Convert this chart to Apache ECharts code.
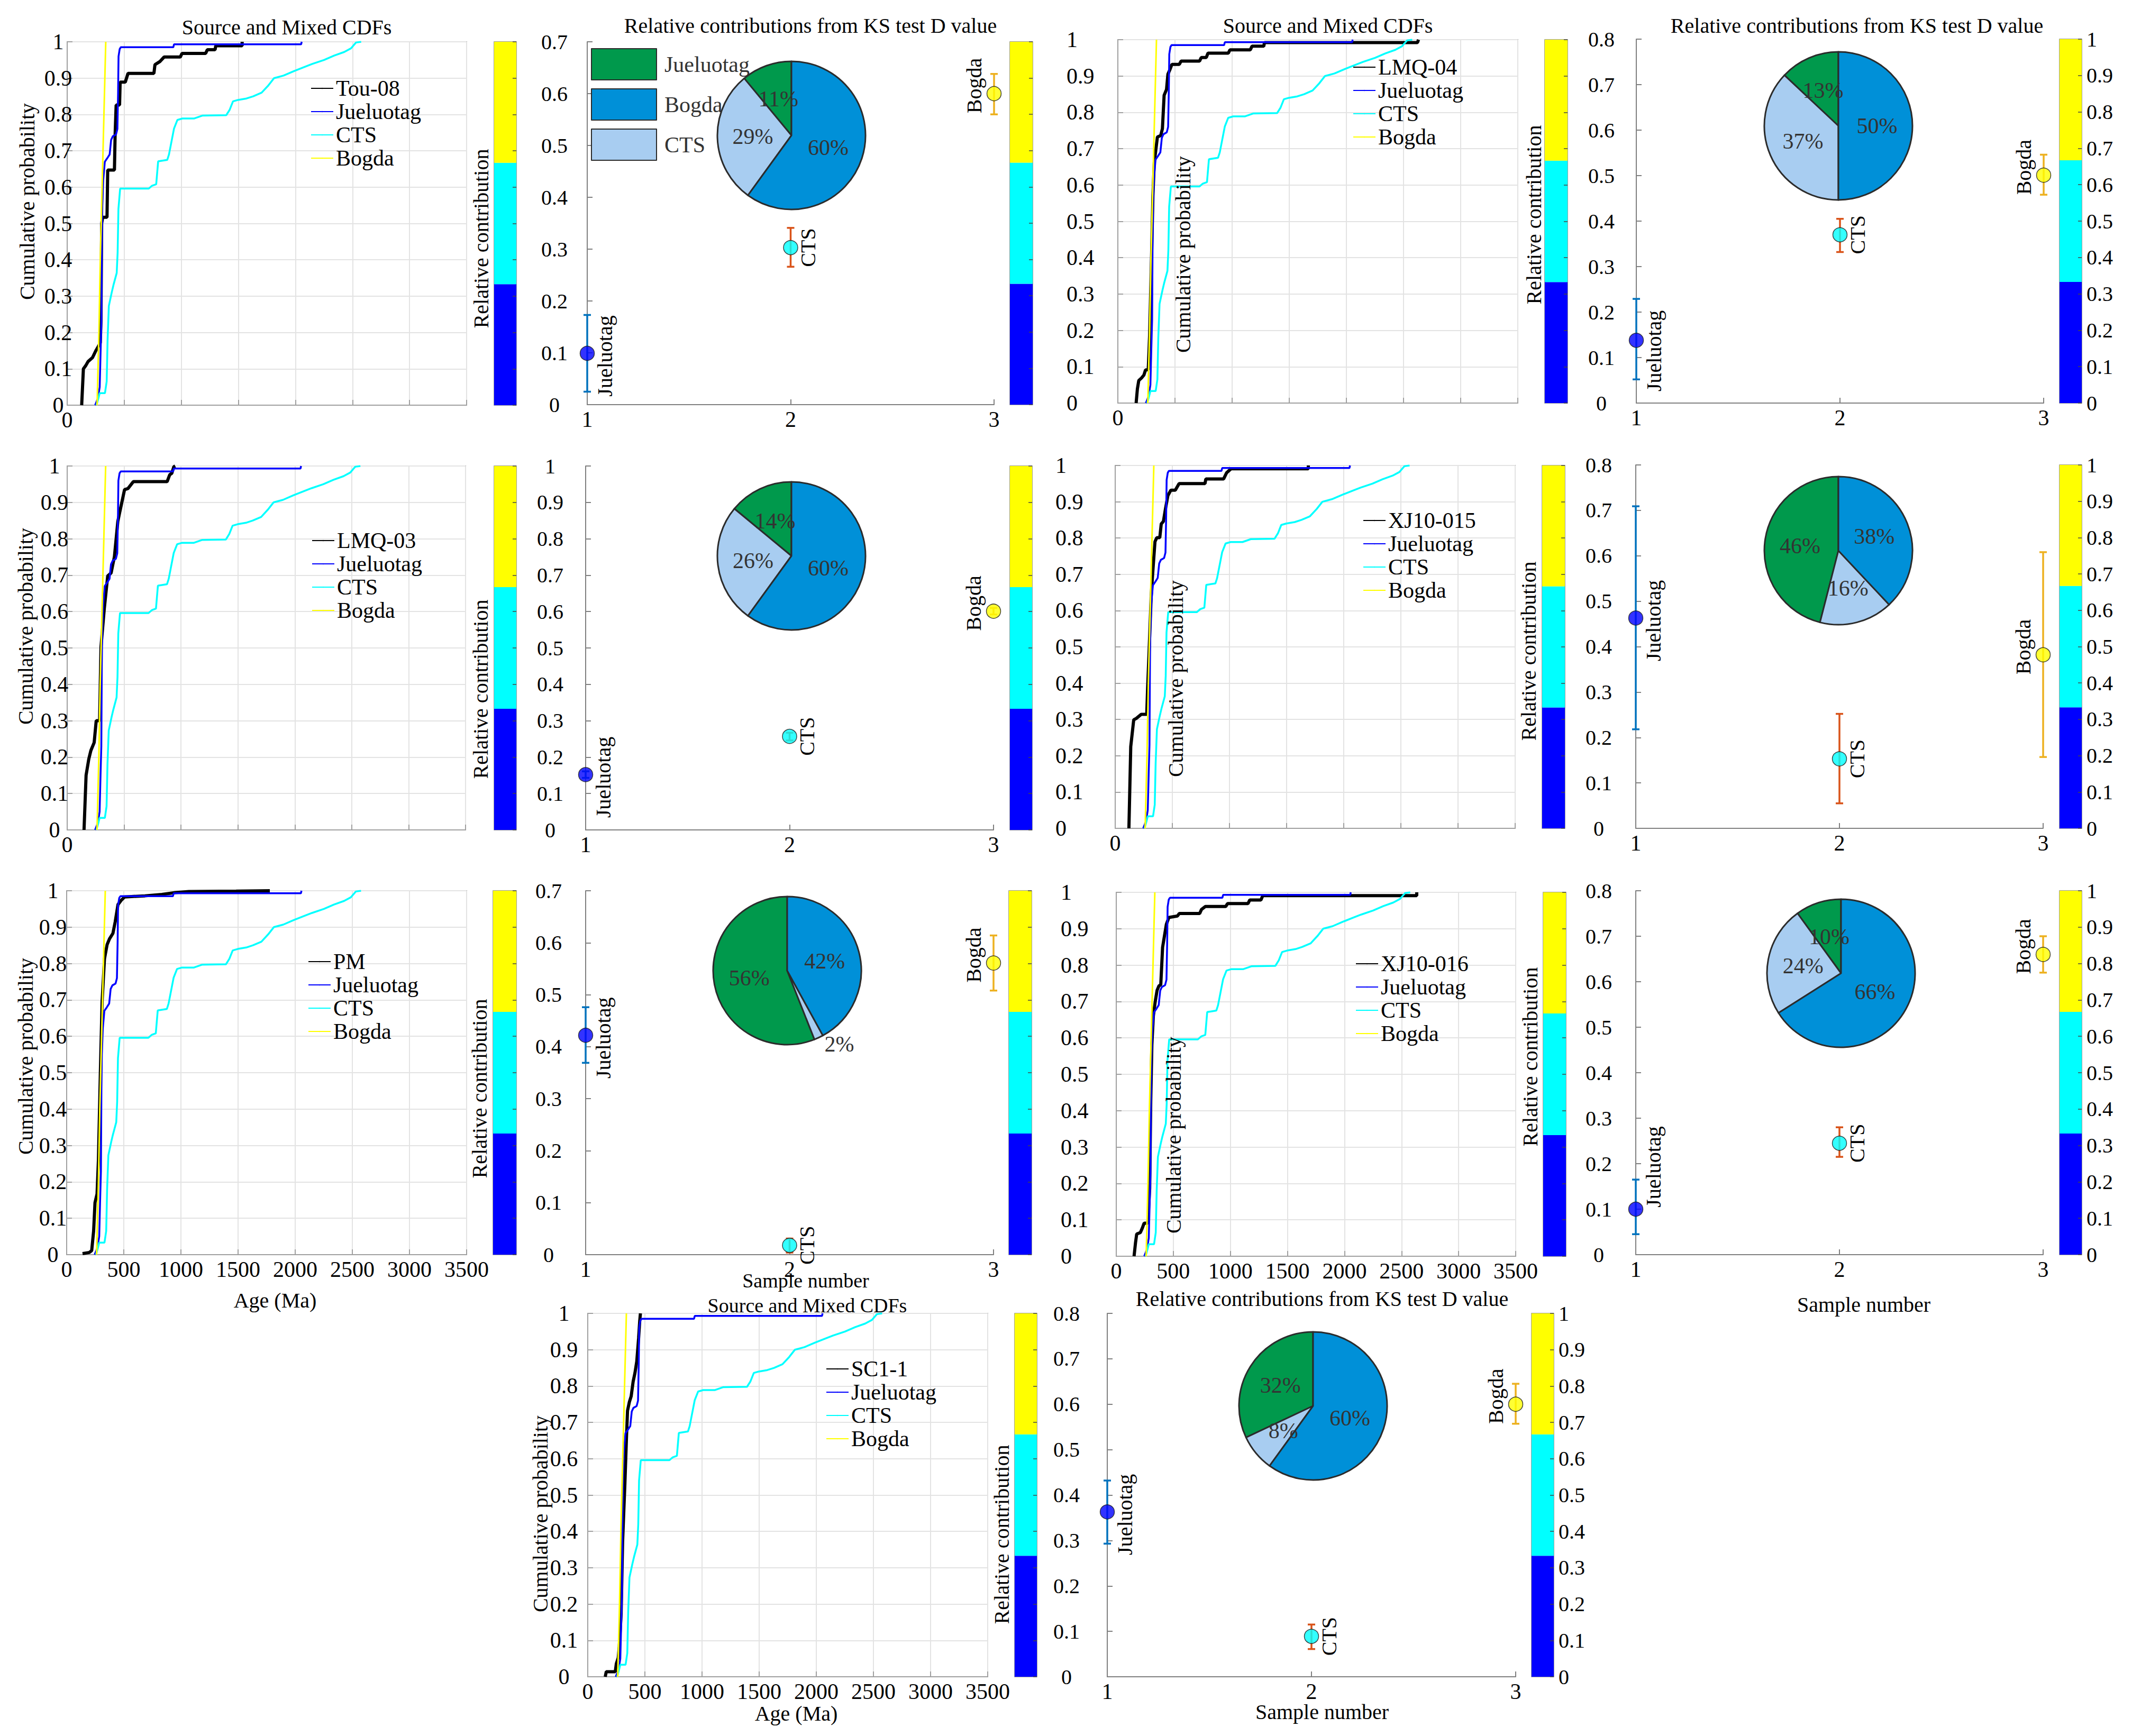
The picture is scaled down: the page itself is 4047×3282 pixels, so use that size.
<!DOCTYPE html>
<html>
<head>
<meta charset="utf-8">
<script src="https://cdn.jsdelivr.net/npm/echarts@6/dist/echarts.min.js"></script>
<style>
  html, body { margin: 0; background: #fff; }
  #chart { width: 4047px; height: 3282px; }
</style>
</head>
<body>
<div id="chart"></div>
<script>
// ---- data ----
const sourceNames = ['Jueluotag', 'CTS', 'Bogda'];
const sampleNames = ['Tou-08', 'LMQ-04', 'LMQ-03', 'XJ10-015', 'PM', 'XJ10-016', 'SC1-1'];

// source CDFs: [age (Ma), cumulative probability]
const jueluotagCdf = [[245, 0], [258, 0.01], [270, 0.02], [285, 0.05], [293, 0.15], [300, 0.23], [304, 0.45], [308, 0.55], [316, 0.62], [330, 0.67], [352, 0.68], [372, 0.69], [385, 0.73], [400, 0.74], [428, 0.745], [440, 0.76], [446, 0.86], [450, 0.96], [460, 0.98], [470, 0.985], [930, 0.985], [936, 0.993], [2050, 0.993], [2055, 1]];
const ctsCdf = [[257, 0], [272, 0.017], [285, 0.033], [331, 0.033], [346, 0.065], [354, 0.18], [365, 0.273], [390, 0.31], [405, 0.33], [434, 0.364], [442, 0.42], [449, 0.54], [464, 0.596], [715, 0.596], [744, 0.604], [780, 0.608], [797, 0.671], [877, 0.675], [892, 0.69], [936, 0.761], [966, 0.785], [1010, 0.789], [1114, 0.789], [1187, 0.797], [1394, 0.798], [1424, 0.813], [1453, 0.836], [1497, 0.84], [1571, 0.844], [1630, 0.85], [1704, 0.86], [1763, 0.88], [1813, 0.9], [1896, 0.907], [1985, 0.919], [2073, 0.93], [2147, 0.939], [2251, 0.95], [2339, 0.962], [2428, 0.972], [2487, 0.982], [2531, 0.998], [2576, 1]];
const bogdaCdf = [[262, 0], [278, 0.2], [290, 0.4], [298, 0.5], [310, 0.65], [322, 0.8], [338, 1]];

// mixed (sample) CDFs
const tou08Cdf = [[127, 0], [142, 0.1], [163, 0.109], [183, 0.12], [222, 0.131], [251, 0.15], [272, 0.161], [290, 0.172], [296, 0.232], [302, 0.5], [311, 0.517], [349, 0.517], [355, 0.647], [414, 0.647], [420, 0.744], [429, 0.826], [459, 0.826], [464, 0.889], [509, 0.889], [533, 0.913], [760, 0.913], [769, 0.937], [814, 0.946], [849, 0.958], [991, 0.958], [1006, 0.968], [1213, 0.968], [1228, 0.978], [1296, 0.978], [1302, 0.989], [1533, 0.989], [1533, 1]];
const lmq04Cdf = [[160, 0], [171, 0.039], [183, 0.062], [207, 0.069], [228, 0.077], [242, 0.091], [266, 0.092], [278, 0.185], [296, 0.416], [307, 0.57], [319, 0.663], [331, 0.693], [346, 0.732], [375, 0.736], [390, 0.755], [405, 0.847], [426, 0.863], [438, 0.905], [455, 0.917], [473, 0.932], [538, 0.932], [553, 0.941], [715, 0.941], [730, 0.951], [774, 0.951], [789, 0.963], [967, 0.963], [981, 0.972], [1159, 0.972], [1174, 0.982], [1277, 0.982], [1283, 0.992], [2622, 0.992], [2631, 1]];
const lmq03Cdf = [[148, 0], [166, 0.15], [190, 0.195], [208, 0.218], [237, 0.24], [255, 0.3], [285, 0.3], [297, 0.503], [326, 0.608], [356, 0.698], [386, 0.706], [415, 0.751], [445, 0.848], [463, 0.875], [504, 0.935], [534, 0.938], [581, 0.957], [878, 0.957], [901, 0.976], [919, 0.98], [937, 0.998], [949, 1]];
const xj10015Cdf = [[120, 0], [136, 0.225], [162, 0.299], [185, 0.303], [227, 0.314], [276, 0.314], [283, 0.381], [299, 0.507], [315, 0.641], [331, 0.716], [348, 0.79], [364, 0.801], [390, 0.801], [403, 0.839], [422, 0.846], [439, 0.879], [461, 0.917], [487, 0.932], [526, 0.932], [559, 0.95], [786, 0.95], [793, 0.963], [949, 0.963], [975, 0.98], [1014, 0.991], [1690, 0.991], [1690, 1]];
const pmCdf = [[139, 0.003], [198, 0.006], [219, 0.011], [236, 0.065], [248, 0.143], [266, 0.167], [278, 0.26], [295, 0.5], [310, 0.695], [331, 0.813], [354, 0.852], [375, 0.868], [405, 0.883], [425, 0.915], [449, 0.962], [478, 0.974], [508, 0.983], [567, 0.984], [685, 0.986], [833, 0.99], [951, 0.995], [1069, 0.998], [1483, 0.999], [1778, 1]];
const xj10016Cdf = [[156, 0], [169, 0.038], [179, 0.061], [211, 0.065], [228, 0.077], [244, 0.091], [276, 0.091], [293, 0.187], [302, 0.424], [312, 0.581], [325, 0.66], [341, 0.699], [358, 0.731], [374, 0.743], [390, 0.746], [406, 0.849], [439, 0.912], [461, 0.931], [536, 0.935], [553, 0.942], [731, 0.942], [747, 0.953], [780, 0.961], [959, 0.961], [975, 0.969], [1154, 0.969], [1170, 0.979], [1268, 0.979], [1284, 0.991], [2633, 0.991], [2633, 1]];
const sc11Cdf = [[153, 0], [162, 0.014], [241, 0.014], [250, 0.036], [267, 0.052], [276, 0.084], [292, 0.172], [305, 0.372], [325, 0.532], [338, 0.652], [348, 0.732], [364, 0.756], [380, 0.772], [397, 0.812], [413, 0.836], [429, 0.868], [445, 0.932], [455, 0.98], [461, 1]];

// pie shares (%), order Jueluotag, CTS, Bogda
const tou08Share = [11, 29, 60];
const lmq04Share = [13, 37, 50];
const lmq03Share = [14, 26, 60];
const xj10015Share = [46, 16, 38];
const pmShare = [56, 2, 42];
const xj10016Share = [10, 24, 66];
const sc11Share = [32, 8, 60];

// relative contributions from KS test D value (point, lower, upper)
const tou08Mean = [0.099, 0.303, 0.600], tou08Low = [0.025, 0.266, 0.560], tou08High = [0.173, 0.341, 0.638];
const lmq04Mean = [0.138, 0.370, 0.501], lmq04Low = [0.052, 0.332, 0.458], lmq04High = [0.229, 0.405, 0.546];
const lmq03Mean = [0.152, 0.257, 0.601], lmq03Low = [0.143, 0.246, 0.592], lmq03High = [0.161, 0.267, 0.610];
const xj10015Mean = [0.463, 0.153, 0.382], xj10015Low = [0.218, 0.055, 0.157], xj10015High = [0.709, 0.252, 0.608];
const pmMean = [0.422, 0.018, 0.561], pmLow = [0.369, 0.004, 0.508], pmHigh = [0.476, 0.031, 0.614];
const xj10016Mean = [0.100, 0.245, 0.660], xj10016Low = [0.045, 0.215, 0.620], xj10016High = [0.165, 0.280, 0.700];
const sc11Mean = [0.363, 0.089, 0.600], sc11Low = [0.293, 0.061, 0.557], sc11High = [0.432, 0.115, 0.645];

const scatterMax = [0.7, 0.8, 1, 0.8, 0.7, 0.8, 0.8];
const sampleNumbers = [1, 2, 3];
const colorbarBands = [0.333, 0.334, 0.333];

const sampleCdfs = [tou08Cdf, lmq04Cdf, lmq03Cdf, xj10015Cdf, pmCdf, xj10016Cdf, sc11Cdf];
const sourceCdfs = [jueluotagCdf, ctsCdf, bogdaCdf];
const shares = [tou08Share, lmq04Share, lmq03Share, xj10015Share, pmShare, xj10016Share, sc11Share];
const means = [tou08Mean, lmq04Mean, lmq03Mean, xj10015Mean, pmMean, xj10016Mean, sc11Mean];
const lows = [tou08Low, lmq04Low, lmq03Low, xj10015Low, pmLow, xj10016Low, sc11Low];
const highs = [tou08High, lmq04High, lmq03High, xj10015High, pmHigh, xj10016High, sc11High];

// ---- styling / layout ----
const FONT = "'Liberation Serif', 'Times New Roman', serif";
const sourceColors = ['#0000ff', '#00ffff', '#ffff00'];
const sourceWidths = [3.5, 3.5, 3];
const pieColors = ['#00994c', '#a8cdf1', '#0090d8'];
const barColors = ['#0072bd', '#d95319', '#edb120'];
const bandColors = ['#0000ff', '#00ffff', '#ffff00'];
const labelDx = [33, 33, -38];
const labelDy = [5, 0, -15];
const axisGray = '#a0a0a0';

const layout = [
  { cdf: [127, 79, 755, 687], cdfBar: [934, 79, 42, 687], sc: [1110, 79, 769, 686], scBar: [1909, 79, 43, 686],
    pie: [1496, 256], legend: [587, 145], cdfLabel: ['center', 17], scMargin: 62, xFull: false, barLabels: false, jDy: 0 },
  { cdf: [2113, 75, 756, 687], cdfBar: [2920, 75, 43, 687], sc: [3093, 74, 770, 688], scBar: [3893, 74, 42, 688],
    pie: [3475, 238], legend: [2557, 105], cdfLabel: ['left', 97], scMargin: 66, xFull: false, barLabels: true, jDy: 15 },
  { cdf: [127, 881, 753, 688], cdfBar: [934, 881, 42, 688], sc: [1107, 881, 771, 688], scBar: [1909, 881, 42, 688],
    pie: [1496, 1051], legend: [589, 1000], cdfLabel: ['center', 24], scMargin: 67, xFull: false, barLabels: false, jDy: 0 },
  { cdf: [2108, 880, 756, 686], cdfBar: [2915, 880, 43, 686], sc: [3092, 879, 770, 687], scBar: [3893, 879, 42, 687],
    pie: [3475, 1041], legend: [2576, 962], cdfLabel: ['left', 113], scMargin: 70, xFull: false, barLabels: true, jDy: 0 },
  { cdf: [126, 1684, 756, 688], cdfBar: [932, 1684, 44, 688], sc: [1107, 1684, 771, 688], scBar: [1907, 1684, 43, 688],
    pie: [1488, 1835], legend: [582, 1796], cdfLabel: ['center', 26], scMargin: 70, xFull: true, barLabels: false, jDy: 0 },
  { cdf: [2110, 1687, 755, 688], cdfBar: [2917, 1687, 43, 688], sc: [3092, 1684, 770, 688], scBar: [3893, 1684, 42, 688],
    pie: [3480, 1840], legend: [2562, 1800], cdfLabel: ['left', 105], scMargin: 70, xFull: true, barLabels: true, jDy: -85 },
  { cdf: [1111, 2483, 756, 687], cdfBar: [1918, 2483, 42, 687], sc: [2093, 2483, 772, 687], scBar: [2895, 2483, 42, 687],
    pie: [2482, 2658], legend: [1561, 2566], cdfLabel: ['center', 45], scMargin: 77, xFull: true, barLabels: true, jDy: 0 }
];

const texts = [
  // [text, x, y, rotated, fontSize]
  ['Source and Mixed CDFs', 542, 51, false, 40],
  ['Relative contributions from KS test D value', 1532, 48, false, 40],
  ['Source and Mixed CDFs', 2510, 48, false, 40],
  ['Relative contributions from KS test D value', 3510, 48, false, 40],
  ['Source and Mixed CDFs', 1526, 2468, false, 38],
  ['Relative contributions from KS test D value', 2499, 2455, false, 40],
  ['Age (Ma)', 520, 2458, false, 40],
  ['Age (Ma)', 1505, 3239, false, 40],
  ['Sample number', 1523, 2421, false, 38],
  ['Sample number', 3523, 2466, false, 40],
  ['Sample number', 2499, 3236, false, 40],
  ['Cumulative probability', 51, 381, true, 40],
  ['Cumulative probability', 2236, 481, true, 40],
  ['Cumulative probability', 48, 1184, true, 40],
  ['Cumulative probability', 2222, 1283, true, 40],
  ['Cumulative probability', 48, 1997, true, 40],
  ['Cumulative probability', 2218, 2146, true, 40],
  ['Cumulative probability', 1021, 2862, true, 40],
  ['Relative contribution', 909, 451, true, 40],
  ['Relative contribution', 2899, 406, true, 40],
  ['Relative contribution', 908, 1303, true, 40],
  ['Relative contribution', 2889, 1231, true, 40],
  ['Relative contribution', 906, 2058, true, 40],
  ['Relative contribution', 2892, 1998, true, 40],
  ['Relative contribution', 1893, 2901, true, 40]
];

const grids = [], xAxes = [], yAxes = [], series = [], legends = [], graphics = [];

function addGrid(box, extra) {
  grids.push(Object.assign({ left: box[0], top: box[1], width: box[2], height: box[3], outerBoundsMode: 'none' }, extra || {}));
  return grids.length - 1;
}
const lineAxis = (color) => ({ show: true, lineStyle: { color, width: 2 } });
const tickIn = (len, color) => ({ show: true, inside: true, length: len, lineStyle: { color, width: 2 } });

function addColorbar(box, showLabels) {
  const g = addGrid(box, { show: true, borderColor: '#808080', borderWidth: 1.5 });
  xAxes.push({ gridIndex: g, type: 'category', data: ['bar'], show: false });
  yAxes.push({ gridIndex: g, type: 'value', min: 0, max: 1, interval: 0.1, position: 'right', z: 5,
    axisLine: { show: false }, splitLine: { show: false },
    axisTick: { show: true, inside: true, length: 7, lineStyle: { color: '#444', width: 1.5 } },
    axisLabel: { show: showLabels, fontSize: 40, fontFamily: FONT, color: '#000', margin: 9 } });
  const ax = xAxes.length - 1, ay = yAxes.length - 1;
  colorbarBands.forEach((v, k) => series.push({
    type: 'bar', xAxisIndex: ax, yAxisIndex: ay, stack: 'cb' + g, data: [v], barWidth: '100%',
    itemStyle: { color: bandColors[k], borderWidth: 0 }, silent: true
  }));
}

layout.forEach((L, i) => {
  // ---- CDF panel ----
  const gc = addGrid(L.cdf, { show: true, borderColor: axisGray, borderWidth: 2 });
  xAxes.push({ gridIndex: gc, type: 'value', min: 0, max: 3500, interval: 500,
    axisLine: lineAxis(axisGray), axisTick: tickIn(10, axisGray),
    splitLine: { show: true, lineStyle: { color: '#e3e3e3', width: 2 } },
    axisLabel: { fontSize: 42, fontFamily: FONT, color: '#000', margin: 7,
      formatter: L.xFull ? (v) => String(v) : (v) => (v === 0 ? '0' : '') } });
  yAxes.push({ gridIndex: gc, type: 'value', min: 0, max: 1, interval: 0.1,
    axisLine: lineAxis(axisGray), axisTick: tickIn(10, axisGray),
    splitLine: { show: true, lineStyle: { color: '#e3e3e3', width: 2 } },
    axisLabel: { fontSize: 42, fontFamily: FONT, color: '#000', align: L.cdfLabel[0], margin: L.cdfLabel[1] } });
  let ax = xAxes.length - 1, ay = yAxes.length - 1;
  const lines = [[sampleNames[i], sampleCdfs[i], '#000000', 6]]
    .concat(sourceNames.map((n, k) => [n, sourceCdfs[k], sourceColors[k], sourceWidths[k]]));
  lines.forEach(([name, data, color, width]) => series.push({
    type: 'line', name, xAxisIndex: ax, yAxisIndex: ay, data, symbol: 'none',
    lineStyle: { color, width }, itemStyle: { color }, silent: true
  }));
  // tiny itemHeight keeps the legend's inherited marker hidden under the line
  legends.push({ orient: 'vertical', left: L.legend[0], top: L.legend[1], padding: 0, itemGap: 0,
    itemWidth: 42, itemHeight: 3, selectedMode: false, data: [sampleNames[i]].concat(sourceNames),
    textStyle: { fontSize: 42, fontFamily: FONT, color: '#000', lineHeight: 44 } });
  addColorbar(L.cdfBar, false);

  // ---- contribution panel ----
  const gs = addGrid(L.sc);
  xAxes.push({ gridIndex: gs, type: 'value', min: 1, max: 3, interval: 1,
    axisLine: lineAxis('#808080'), axisTick: tickIn(10, '#808080'), splitLine: { show: false },
    axisLabel: { fontSize: 42, fontFamily: FONT, color: '#000', margin: 7 } });
  yAxes.push({ gridIndex: gs, type: 'value', min: 0, max: scatterMax[i], interval: 0.1,
    axisLine: lineAxis('#808080'), axisTick: tickIn(10, '#808080'), splitLine: { show: false },
    axisLabel: { fontSize: 40, fontFamily: FONT, color: '#000', align: 'center', margin: L.scMargin,
      padding: [20, 0, 0, 0] } });
  ax = xAxes.length - 1; ay = yAxes.length - 1;

  const dys = labelDy.map((d, k) => (k === 0 ? d + L.jDy : d));
  series.push({
    type: 'custom', xAxisIndex: ax, yAxisIndex: ay, clip: false, silent: true, z: 3,
    data: sampleNumbers.map((s, k) => [s, lows[i][k], highs[i][k], means[i][k], k]),
    renderItem: (params, api) => {
      const k = api.value(4);
      const top = api.coord([api.value(0), api.value(2)]);
      const bot = api.coord([api.value(0), api.value(1)]);
      const mid = api.coord([api.value(0), api.value(3)]);
      const st = { stroke: barColors[k], lineWidth: 3.5 };
      return { type: 'group', children: [
        { type: 'line', shape: { x1: top[0], y1: top[1], x2: bot[0], y2: bot[1] }, style: st },
        { type: 'line', shape: { x1: top[0] - 7, y1: top[1], x2: top[0] + 7, y2: top[1] }, style: st },
        { type: 'line', shape: { x1: bot[0] - 7, y1: bot[1], x2: bot[0] + 7, y2: bot[1] }, style: st },
        { type: 'text', x: mid[0] + labelDx[k], y: mid[1] + dys[k], rotation: Math.PI / 2,
          style: { text: sourceNames[k], fontSize: 40, fontFamily: FONT, fill: '#000',
            align: 'center', verticalAlign: 'middle', textAlign: 'center', textVerticalAlign: 'middle' } }
      ] };
    }
  });
  series.push({
    type: 'scatter', xAxisIndex: ax, yAxisIndex: ay, clip: false, silent: true, z: 4, symbolSize: 27,
    data: sampleNumbers.map((s, k) => ({ value: [s, means[i][k]], itemStyle: { color: sourceColors[k] } })),
    itemStyle: { borderColor: '#1a1a1a', borderWidth: 1.5 }
  });
  series.push({
    type: 'pie', center: L.pie, radius: 140, startAngle: 90, clockwise: false, silent: true, z: 5,
    avoidLabelOverlap: false,
    itemStyle: { borderColor: '#2b2b2b', borderWidth: 3 },
    label: { show: true, position: 'inside', formatter: '{c}%', fontSize: 42, fontFamily: FONT, color: '#333' },
    labelLine: { show: false, length: 14, length2: 0 },
    data: shares[i].map((v, k) => ({
      name: sourceNames[k] + ' share', value: v, itemStyle: { color: pieColors[k] },
      label: v < 5 ? { position: 'outside' } : undefined
    }))
  });
  addColorbar(L.scBar, L.barLabels);
});

// pie legend (first panel only)
legends.push({ orient: 'vertical', left: 1117, top: 91, padding: 0, itemGap: 15, itemWidth: 123, itemHeight: 59,
  icon: 'rect', selectedMode: false,
  data: ['Jueluotag share', 'Bogda share', 'CTS share'],
  formatter: (n) => n.replace(' share', ''),
  textStyle: { fontSize: 42, fontFamily: FONT, color: '#333', padding: [0, 0, 0, 10] } });

texts.forEach(([text, x, y, rot, size]) => graphics.push({
  type: 'text', x, y, rotation: rot ? Math.PI / 2 : 0, z: 100, silent: true,
  style: { text, fontSize: size, fontFamily: FONT, fill: '#000',
    align: 'center', verticalAlign: 'middle', textAlign: 'center', textVerticalAlign: 'middle' }
}));

const option = {
  animation: false,
  backgroundColor: '#ffffff',
  textStyle: { fontFamily: FONT },
  grid: grids,
  xAxis: xAxes,
  yAxis: yAxes,
  legend: legends,
  series,
  graphic: { elements: graphics }
};

echarts.init(document.getElementById('chart'), null, { renderer: 'svg' }).setOption(option);
</script>
</body>
</html>
